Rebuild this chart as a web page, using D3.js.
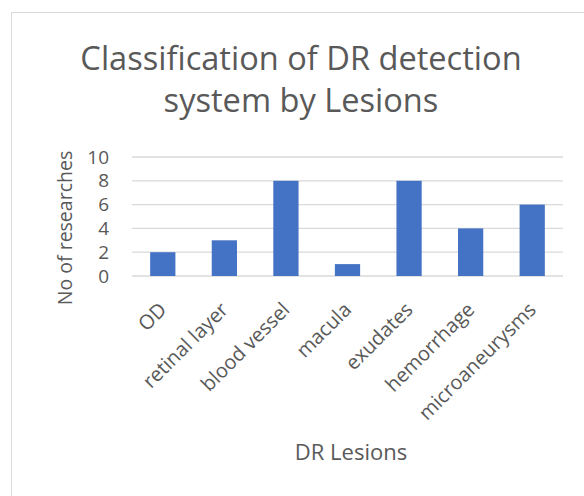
<!DOCTYPE html>
<html>
<head>
<meta charset="utf-8">
<script src="https://cdn.jsdelivr.net/npm/d3@7"></script>
<style>
  body { margin: 0; background: #fff; }
  svg { display: block; font-family: "Open Sans", sans-serif; }
</style>
</head>
<body>
<div id="chart"></div>
<script>
const categories = ["OD", "retinal layer", "blood vessel", "macula", "exudates", "hemorrhage", "microaneurysms"];
const values = [2, 3, 8, 1, 8, 4, 6];
const yTicks = [0, 2, 4, 6, 8, 10];
const titleLines = ["Classification of DR detection", "system by Lesions"];

const width = 584, height = 496;
const margin = { top: 157, right: 21, bottom: 220, left: 132 };
const textColor = "#595959";

const svg = d3.select("#chart").append("svg")
  .attr("width", width)
  .attr("height", height);

// bit of the document text above the chart
svg.append("text")
  .attr("x", 296).attr("y", -4)
  .attr("font-family", "Liberation Serif, serif")
  .attr("font-weight", "bold")
  .attr("font-size", 16)
  .text("Type");

// chart frame
svg.append("rect")
  .attr("x", 11.5).attr("y", 12.5)
  .attr("width", 600).attr("height", 520)
  .attr("fill", "#fff")
  .attr("stroke", "#d9d9d9");

const chartW = width - margin.left - margin.right;
const chartH = height - margin.top - margin.bottom;

const g = svg.append("g")
  .attr("transform", `translate(${margin.left},${margin.top})`);

const x = d3.scaleBand()
  .domain(categories)
  .range([0, chartW])
  .paddingInner(0.59)
  .paddingOuter(0.295);

const y = d3.scaleLinear()
  .domain([0, 10])
  .range([chartH, 0]);

// gridlines
g.append("g")
  .selectAll("line")
  .data(yTicks)
  .join("line")
  .attr("x1", 0).attr("x2", chartW)
  .attr("y1", d => y(d)).attr("y2", d => y(d))
  .attr("stroke", "#d9d9d9")
  .attr("stroke-width", 1.3);

// y axis labels
const yAxis = d3.axisLeft(y).tickValues(yTicks).tickSize(0).tickPadding(23);
g.append("g")
  .call(yAxis)
  .call(s => s.select(".domain").remove())
  .selectAll("text")
  .attr("fill", textColor)
  .attr("font-size", 19)
  .attr("font-family", "Open Sans, sans-serif");

// bars
g.selectAll("rect.bar")
  .data(values)
  .join("rect")
  .attr("class", "bar")
  .attr("x", (d, i) => x(categories[i]))
  .attr("y", d => y(d))
  .attr("width", x.bandwidth())
  .attr("height", d => chartH - y(d))
  .attr("fill", "#4472c4");

// x axis labels
const xAxis = d3.axisBottom(x).tickSize(0).tickPadding(0);
g.append("g")
  .attr("transform", `translate(0,${chartH})`)
  .call(xAxis)
  .call(s => s.select(".domain").remove())
  .selectAll("text")
  .attr("fill", textColor)
  .attr("font-size", 20)
  .attr("font-family", "Open Sans, sans-serif")
  .attr("text-anchor", "end")
  .attr("y", 0)
  .attr("dy", 0)
  .attr("transform", "translate(5,35) rotate(-45)");

// title
svg.append("text")
  .attr("x", 301)
  .attr("text-anchor", "middle")
  .attr("fill", textColor)
  .attr("font-size", 32.6)
  .selectAll("tspan")
  .data(titleLines)
  .join("tspan")
  .attr("x", 301)
  .attr("y", (d, i) => 70 + i * 42)
  .text(d => d);

// axis titles
svg.append("text")
  .attr("transform", "translate(72,228) rotate(-90)")
  .attr("text-anchor", "middle")
  .attr("fill", textColor)
  .attr("font-size", 19.5)
  .text("No of researches");

svg.append("text")
  .attr("x", 351).attr("y", 460)
  .attr("text-anchor", "middle")
  .attr("fill", textColor)
  .attr("font-size", 22)
  .text("DR Lesions");
</script>
</body>
</html>
